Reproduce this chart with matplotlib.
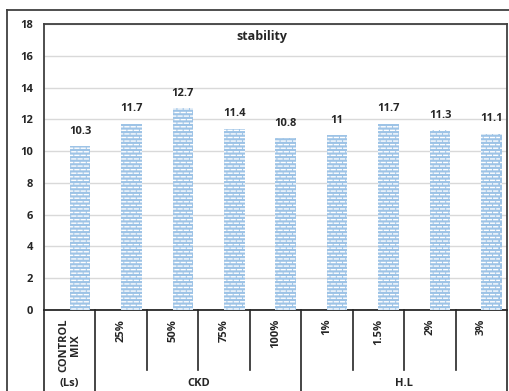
import matplotlib.pyplot as plt
import matplotlib as mpl
import matplotlib.hatch as mhatch
from matplotlib.lines import Line2D
from matplotlib.path import Path
import numpy as np

categories = ['CONTROL\nMIX', '25%', '50%', '75%', '100%', '1%', '1.5%', '2%', '3%']
stability = [10.3, 11.7, 12.7, 11.4, 10.8, 11, 11.7, 11.3, 11.1]
value_labels = ['10.3', '11.7', '12.7', '11.4', '10.8', '11', '11.7', '11.3', '11.1']
groups = ['(Ls)', 'CKD', 'H.L']
group_sizes = [1, 4, 4]
y_ticks = [0, 2, 4, 6, 8, 10, 12, 14, 16, 18]

BAR_BLUE = '#9DC3E6'
TEXT = '#262626'


class BrickDashes(mhatch.HatchPatternBase):
    """Staggered rows of short dashes (Excel style 'dashed horizontal' fill)."""
    rows, per_row, dash = 28, 16, 0.62

    def __init__(self, hatch, density):
        self.num_vertices = self.rows * self.per_row * 2 if '-' in hatch else 0

    def set_vertices_and_codes(self, vertices, codes):
        i = 0
        for r in range(self.rows):
            y = (r + 0.5) / self.rows
            shift = 0.5 / self.per_row if r % 2 else 0.0
            for k in range(self.per_row):
                x0 = k / self.per_row + shift
                vertices[i] = (x0, y)
                vertices[i + 1] = (x0 + self.dash / self.per_row, y)
                codes[i] = Path.MOVETO
                codes[i + 1] = Path.LINETO
                i += 2


mhatch._hatch_types = [BrickDashes]

plt.rcParams['font.family'] = ['Open Sans', 'DejaVu Sans']
plt.rcParams['hatch.linewidth'] = 1.0

fig = plt.figure(figsize=(5.09, 3.91), dpi=100)
ax = fig.add_axes([0.0864, 0.207, 0.9096, 0.7316])

x = np.arange(len(categories))
bar_x = x + 0.2  # bars sit right of the category centre
ax.bar(bar_x, stability, width=0.4, color=BAR_BLUE, hatch='-', edgecolor='white',
       linewidth=0, zorder=3)
for xi, v, lab in zip(bar_x, stability, value_labels):
    ax.annotate(lab, (xi, v), xytext=(0, 7), textcoords='offset points',
                ha='center', va='bottom', fontsize=8, fontweight='bold', color=TEXT)

ax.set_xlim(-0.5, len(categories) - 0.5)
ax.set_ylim(0, 18)
ax.set_yticks(y_ticks)
ax.set_yticklabels([str(t) for t in y_ticks], fontsize=8, fontweight='bold', color=TEXT)
ax.tick_params(axis='y', length=0, pad=8)
ax.set_xticks([])
ax.grid(axis='y', color='#d9d9d9', linewidth=1, zorder=0)

for side in ['top', 'left', 'right']:
    ax.spines[side].set_color('#404040')
    ax.spines[side].set_linewidth(1.3)
ax.spines['bottom'].set_color(TEXT)
ax.spines['bottom'].set_linewidth(1.3)

ax.set_title('stability', fontsize=9, fontweight='bold', color=TEXT, x=0.47, y=0.955,
             pad=0, va='center')

# category labels and separators below the axis
trans = mpl.transforms.blended_transform_factory(ax.transData, ax.transAxes)
for xi, lab in zip(x, categories):
    ax.text(xi, -0.03, lab, transform=trans, rotation=90, ha='center', va='top',
            fontsize=8, fontweight='bold', color=TEXT, linespacing=1.0,
            multialignment='center')

bounds = np.cumsum([0] + group_sizes) - 0.5
for b in np.arange(len(categories) + 1) - 0.5:
    low = -0.3 if b in bounds else -0.21
    ax.add_line(Line2D([b, b], [0, low], transform=trans, color=TEXT,
                       linewidth=1.2, clip_on=False))

for g, start, size in zip(groups, bounds[:-1], group_sizes):
    ax.text(start + size / 2, -0.255, g, transform=trans, ha='center', va='center',
            fontsize=8, fontweight='bold', color=TEXT)

# outer chart frame
fig.add_artist(Line2D([0.0138, 0.0138], [0, 0.974], color='#404040', linewidth=1.3))
fig.add_artist(Line2D([0.0138, 1.0], [0.974, 0.974], color='#404040', linewidth=1.3))

fig.savefig('out.png', dpi=100)
